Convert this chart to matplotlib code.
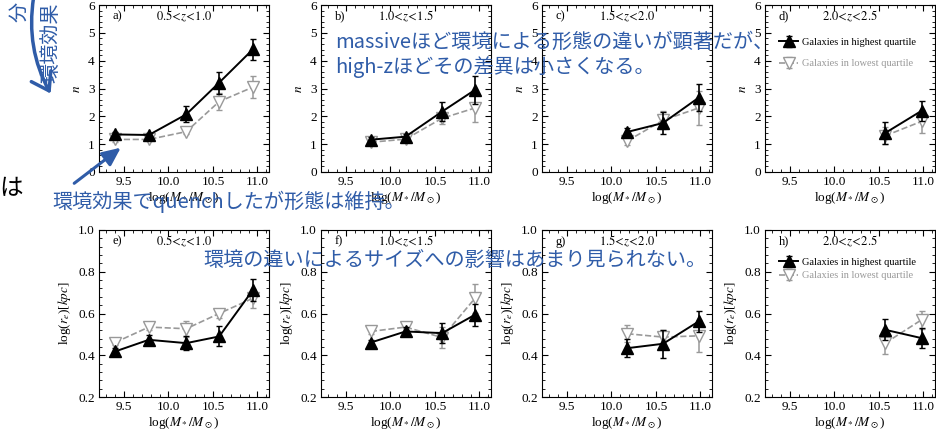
import matplotlib
matplotlib.use('Agg')
import matplotlib.pyplot as plt
from matplotlib.patches import FancyArrowPatch
from matplotlib.ticker import MultipleLocator, AutoMinorLocator

plt.rcParams['font.family'] = ['Liberation Serif']
plt.rcParams['mathtext.fontset'] = 'stix'

# redshift bins and stellar-mass bin centres (same for n and r_e rows)
panel_top = ['a)', 'b)', 'c)', 'd)']
panel_bottom = ['e)', 'f)', 'g)', 'h)']
z_bins = [r'$0.5\!<\!z\!<\!1.0$', r'$1.0\!<\!z\!<\!1.5$',
          r'$1.5\!<\!z\!<\!2.0$', r'$2.0\!<\!z\!<\!2.5$']
mass = [[9.40, 9.78, 10.20, 10.57, 10.95],
        [9.78, 10.17, 10.58, 10.95],
        [10.18, 10.58, 10.98],
        [10.57, 10.98]]

# Sersic index n
n_high = [[1.35, 1.33, 2.07, 3.21, 4.41], [1.16, 1.27, 2.17, 2.95],
          [1.44, 1.76, 2.67], [1.40, 2.20]]
n_high_err = [[0.10, 0.08, 0.29, 0.40, 0.37], [0.08, 0.10, 0.35, 0.50],
              [0.15, 0.38, 0.48], [0.38, 0.35]]
n_low = [[1.17, 1.17, 1.45, 2.53, 3.05], [1.07, 1.18, 1.93, 2.30],
         [1.12, 1.86, 2.30], [1.30, 1.82]]
n_low_err = [[0.08, 0.07, 0.10, 0.30, 0.40], [0.10, 0.08, 0.22, 0.52],
             [0.16, 0.32, 0.60], [0.30, 0.42]]

# log(r_e) [kpc]
re_high = [[0.418, 0.474, 0.458, 0.490, 0.713], [0.461, 0.514, 0.506, 0.594],
           [0.434, 0.455, 0.562], [0.522, 0.482]]
re_high_err = [[0.015, 0.025, 0.035, 0.048, 0.052], [0.012, 0.020, 0.048, 0.052],
               [0.044, 0.068, 0.052], [0.050, 0.048]]
re_low = [[0.461, 0.535, 0.527, 0.600, 0.673], [0.514, 0.535, 0.485, 0.673],
          [0.503, 0.487, 0.493], [0.458, 0.570]]
re_low_err = [[0.012, 0.012, 0.038, 0.022, 0.045], [0.010, 0.015, 0.048, 0.070],
              [0.040, 0.033, 0.076], [0.052, 0.044]]

W, H = 937, 433
GREY = '#999999'
BLUE = '#2f5ca8'
JP = ['Noto Sans CJK JP', 'DejaVu Sans']

fig = plt.figure(figsize=(W / 100, H / 100), dpi=100)


def px(x, y):
    # pixel position (from top-left) -> figure fraction
    return x / W, 1 - y / H


def draw_panel(ax, i, yh, yh_err, yl, yl_err, label, ylim, ystep, ylabel):
    ax.errorbar(mass[i], yh[i], yerr=yh_err[i], color='black', lw=1.4,
                marker='^', ms=8.5, mfc='black', mec='black',
                capsize=2.5, elinewidth=1.2, zorder=3,
                label='Galaxies in highest quartile')
    ax.errorbar(mass[i], yl[i], yerr=yl_err[i], color=GREY, lw=1.2, ls='--',
                marker='v', ms=8.5, mfc='white', mec=GREY,
                capsize=2.5, elinewidth=1.1, zorder=2,
                label='Galaxies in lowest quartile')
    ax.set_xlim(9.22, 11.13)
    ax.set_ylim(*ylim)
    ax.xaxis.set_major_locator(MultipleLocator(0.5))
    ax.xaxis.set_minor_locator(MultipleLocator(0.1))
    ax.yaxis.set_major_locator(MultipleLocator(ystep))
    ax.yaxis.set_minor_locator(AutoMinorLocator(5))
    ax.xaxis.set_major_formatter(plt.FuncFormatter(lambda v, p: f'{v:.1f}'))
    ax.tick_params(which='both', direction='in', top=True, right=True,
                   labelsize=9.5, pad=3)
    ax.tick_params(which='major', length=4)
    ax.tick_params(which='minor', length=2)
    ax.set_xlabel(r'log($M_*/M_\odot$)', fontsize=9.5, labelpad=1)
    ax.set_ylabel(ylabel, fontsize=9.5, labelpad=4)
    ax.text(0.08, 0.93, label, transform=ax.transAxes, fontsize=9, va='center')
    ax.text(0.5, 0.93, z_bins[i], transform=ax.transAxes, fontsize=9,
            ha='center', va='center')


lefts = [99, 321, 542, 765]
aw, ah = 170, 167
for i, x0 in enumerate(lefts):
    l, b = px(x0, 172)
    ax = fig.add_axes([l, b, aw / W, ah / H])
    draw_panel(ax, i, n_high, n_high_err, n_low, n_low_err,
               panel_top[i], (0, 6), 1, r'$n$')
    if i == 3:
        leg = ax.legend(loc='upper left', bbox_to_anchor=(0.03, 0.86),
                        frameon=False, fontsize=7.5, handlelength=1.8,
                        handletextpad=0.4, labelspacing=1.15)
        leg.get_texts()[1].set_color(GREY)

    l, b = px(x0, 397)
    ax = fig.add_axes([l, b, aw / W, ah / H])
    draw_panel(ax, i, re_high, re_high_err, re_low, re_low_err,
               panel_bottom[i], (0.2, 1.0), 0.2, r'log($r_e$)[$kpc$]')
    if i == 3:
        leg = ax.legend(loc='upper left', bbox_to_anchor=(0.03, 0.89),
                        frameon=False, fontsize=7.5, handlelength=1.8,
                        handletextpad=0.4, labelspacing=0.4)
        leg.get_texts()[1].set_color(GREY)

# slide annotations
fig.text(*px(335, 42), 'massiveほど環境による形態の違いが顕著だが、', family=JP,
         fontsize=14.5, color=BLUE, va='center', zorder=10)
fig.text(*px(335, 67), 'high-zほどその差異は小さくなる。', family=JP,
         fontsize=14.5, color=BLUE, va='center', zorder=10)
fig.text(*px(52, 202), '環境効果でquenchしたが形態は維持。', family=JP,
         fontsize=14.5, color=BLUE, va='center', zorder=10)
fig.text(*px(203, 260), '環境の違いによるサイズへの影響はあまり見られない。', family=JP,
         fontsize=14.5, color=BLUE, va='center', zorder=10)
fig.text(*px(51, 83), '環境効果', family=JP, fontsize=14.5, color=BLUE,
         rotation=90, ha='center', va='bottom', zorder=10)
fig.text(*px(20, 22), '分', family=JP, fontsize=14.5, color=BLUE,
         rotation=90, ha='center', va='bottom', zorder=10)
fig.text(*px(23, 189), 'は', family=JP, fontsize=17, color='black',
         ha='right', va='center', zorder=10)

arc = FancyArrowPatch(px(34, -5), px(52, 96), transform=fig.transFigure,
                      connectionstyle='arc3,rad=0.18',
                      arrowstyle='->,head_length=0.6,head_width=0.4',
                      mutation_scale=20, color=BLUE, lw=2.5, zorder=10)
fig.add_artist(arc)
arr = FancyArrowPatch(px(72, 185), px(123, 146), transform=fig.transFigure,
                      arrowstyle='-|>,head_length=0.55,head_width=0.25',
                      mutation_scale=20, color=BLUE, lw=2.2, zorder=10)
fig.add_artist(arr)

fig.savefig('out.png', dpi=100)
